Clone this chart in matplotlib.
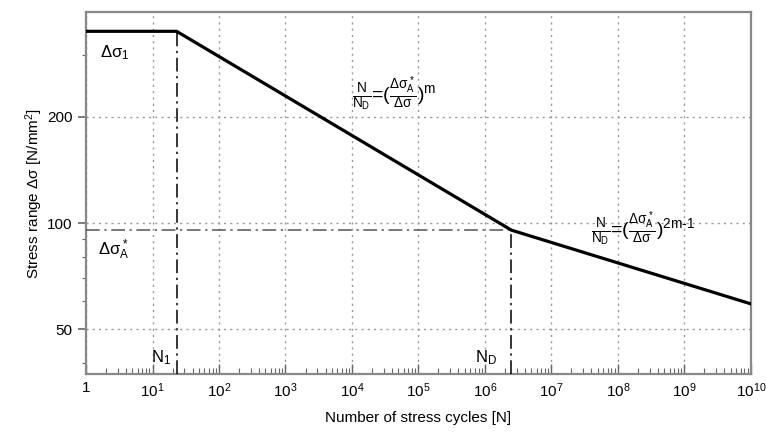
import math
import matplotlib
matplotlib.use("Agg")
import matplotlib.pyplot as plt
from matplotlib.ticker import FixedLocator, FuncFormatter, NullFormatter, LogLocator

plt.rcParams['font.family'] = ['Liberation Sans', 'DejaVu Sans']
plt.rcParams['mathtext.fontset'] = 'custom'
plt.rcParams['mathtext.rm'] = 'Liberation Sans'
plt.rcParams['mathtext.it'] = 'Liberation Sans'
plt.rcParams['mathtext.sf'] = 'Liberation Sans'

# S-N curve corner points
cycles = [1, 23, 2.5e6, 1e10]
stress = [350, 350, 95.5, 59]
N1 = 23
ND = 2.5e6
dsA = 95.5
ds1 = 350

yticks = [50, 100, 200]
yminor = [40, 60, 70, 80, 90, 300]
xticks = [10**k for k in range(11)]

fig = plt.figure(figsize=(7.66, 4.37), dpi=100)
ax = fig.add_axes([0.1123, 0.144, 0.868, 0.8285])
ax.set_xscale('log')
ax.set_yscale('log')
ax.set_xlim(1, 1e10)
ax.set_ylim(37.3, 397)

ax.plot(cycles, stress, color='black', lw=2.3, solid_joinstyle='round', zorder=5)

dd = (0, (9, 3, 1.5, 3))
ax.plot([1, ND], [dsA, dsA], color='#555555', lw=1.1, ls=dd, zorder=4)
ax.plot([N1, N1], [37.3, ds1], color='black', lw=1.1, ls=dd, zorder=4)
ax.plot([ND, ND], [37.3, dsA], color='black', lw=1.1, ls=dd, zorder=4)

ax.yaxis.set_major_locator(FixedLocator(yticks))
ax.yaxis.set_minor_locator(FixedLocator(yminor))
ax.yaxis.set_major_formatter(FuncFormatter(lambda v, p: '%d' % v))
ax.yaxis.set_minor_formatter(NullFormatter())
ax.xaxis.set_major_locator(FixedLocator(xticks))
ax.xaxis.set_minor_locator(LogLocator(base=10, subs=range(2, 10), numticks=200))
ax.xaxis.set_minor_formatter(NullFormatter())
ax.xaxis.set_major_formatter(FuncFormatter(
    lambda v, p: '1' if v == 1 else r'10$^{%d}$' % round(math.log10(v))))

ax.grid(True, which='major', color='#999999', ls=(0, (1.5, 3)), lw=1.0)
ax.tick_params(axis='x', which='major', direction='in', length=7, width=1, color='#666666',
               labelsize=11, pad=5)
ax.tick_params(axis='x', which='minor', direction='in', length=4, width=0.8, color='#666666')
ax.tick_params(axis='y', which='major', direction='out', length=6, width=1.2, color='#666666',
               labelsize=11)
ax.tick_params(axis='y', which='minor', direction='out', length=3, width=0.8, color='#666666')
for s in ax.spines.values():
    s.set_color('#888888')
    s.set_linewidth(1.6)

ax.set_xlabel('Number of stress cycles [N]', fontsize=11, labelpad=8)
ax.set_ylabel(r'Stress range $\Delta\sigma$ [N/mm$^2$]', fontsize=11, labelpad=2)

ax.text(1.6, 305, r'$\Delta\sigma_1$', fontsize=12, va='center')
ax.text(1.5, 84, r'$\Delta\sigma^*_A$', fontsize=12, va='center')
ax.text(10**0.97, 41.5, r'$\mathrm{N}_1$', fontsize=12, va='center')
ax.text(10**5.85, 41.5, r'$\mathrm{N}_D$', fontsize=12, va='center')
ax.text(10**4.0, 232, r'$\frac{N}{N_D}$=($\frac{\Delta\sigma^*_A}{\Delta\sigma}$)$^m$',
        fontsize=14, va='center')
ax.text(10**7.6, 96, r'$\frac{N}{N_D}$=($\frac{\Delta\sigma^*_A}{\Delta\sigma}$)$^{2m\text{-}1}$',
        fontsize=14, va='center')

fig.savefig('out.png', dpi=100)
